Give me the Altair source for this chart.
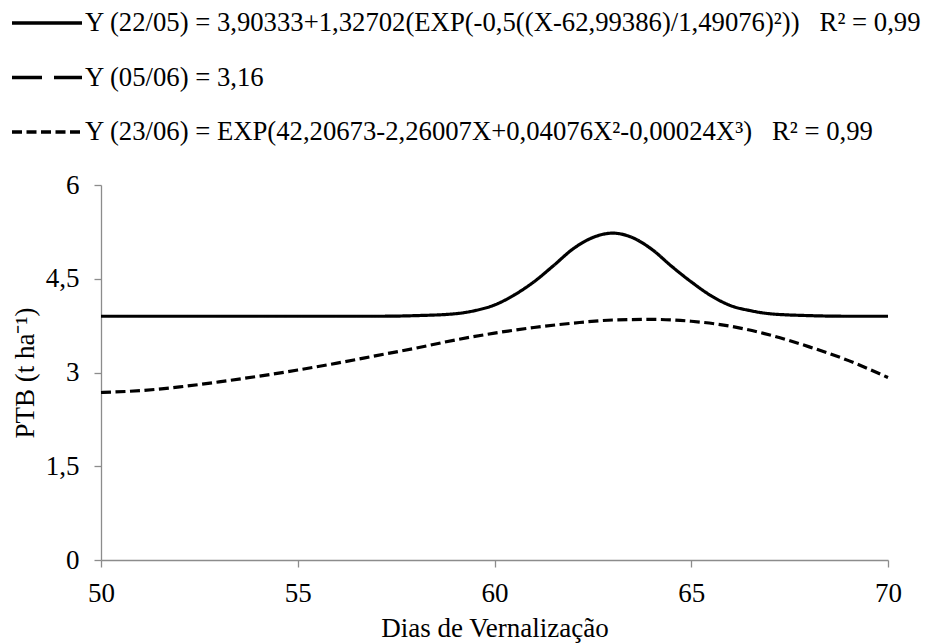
import altair as alt
import pandas as pd

# Series labels (legend text)
lab_a = "Y (22/05) = 3,90333+1,32702(EXP(-0,5((X-62,99386)/1,49076)²))\u00a0\u00a0\u00a0R² = 0,99"
lab_b = "Y (05/06) = 3,16"
lab_c = "Y (23/06) = EXP(42,20673-2,26007X+0,04076X²-0,00024X³)\u00a0\u00a0\u00a0R² = 0,99"

# Solid curve (22/05)
x_a = [50, 52, 54, 56, 57, 58, 59, 59.5, 60, 60.5, 61, 61.5, 62, 62.5, 63, 63.5, 64, 64.5, 65, 65.5, 66, 66.5, 67, 68, 69, 70]
y_a = [3.90, 3.90, 3.90, 3.90, 3.90, 3.91, 3.94, 3.99, 4.08, 4.24, 4.45, 4.71, 4.98, 5.16, 5.23, 5.16, 4.97, 4.70, 4.45, 4.23, 4.07, 3.99, 3.94, 3.91, 3.90, 3.90]

# Short-dashed curve (23/06)
x_c = [50, 51, 52, 53, 54, 55, 56, 57, 58, 59, 60, 61, 62, 63, 64, 65, 66, 67, 68, 69, 70]
y_c = [2.68, 2.71, 2.77, 2.85, 2.94, 3.04, 3.15, 3.27, 3.39, 3.52, 3.63, 3.72, 3.79, 3.84, 3.85, 3.82, 3.74, 3.60, 3.41, 3.19, 2.92]

y_ticks = [0, 1.5, 3, 4.5, 6]
x_ticks = [50, 55, 60, 65, 70]

df = pd.concat([
    pd.DataFrame({"x": x_a, "y": y_a, "serie": lab_a}),
    pd.DataFrame({"x": x_c, "y": y_c, "serie": lab_c}),
])

FONT = "Liberation Serif"
GREY = "#8c8c8c"
FS = 27

chart = alt.Chart(df).mark_line(
    color="black", strokeWidth=3.2, interpolate="monotone"
).encode(
    x=alt.X("x:Q", scale=alt.Scale(domain=[50, 70], nice=False, zero=False),
            axis=alt.Axis(values=x_ticks, title="Dias de Vernalização", grid=False,
                          labelPadding=13, titlePadding=9, format="d",
                          labelFlush=False, labelFont=FONT, titleFont=FONT)),
    y=alt.Y("y:Q", scale=alt.Scale(domain=[0, 6], nice=False),
            axis=alt.Axis(values=y_ticks, title="PTB (t ha⁻¹)", grid=False,
                          labelExpr="replace(format(datum.value, '~g'), '.', ',')",
                          labelPadding=15, titlePadding=6, labelFlush=False,
                          labelFont=FONT, titleFont=FONT)),
    strokeDash=alt.StrokeDash(
        "serie:N",
        scale=alt.Scale(domain=[lab_a, lab_b, lab_c],
                        range=[[1, 0], [30, 12], [10, 4.5]]),
        legend=alt.Legend(
            title=None, orient="none", legendX=-91, legendY=-199,
            direction="vertical", symbolType="stroke", symbolSize=4900,
            symbolStrokeWidth=3.5, symbolStrokeColor="black", labelFont=FONT,
            labelFontSize=26.7, labelColor="black", labelLimit=0, labelOffset=1,
            rowPadding=3.5, padding=0, symbolOffset=0,
        ),
    ),
).properties(
    width=787, height=375,
    background="white",
    autosize=alt.AutoSizeParams(type="none"),
    padding={"left": 101, "top": 185, "right": 37, "bottom": 83},
).configure_view(stroke=None).configure_axis(
    labelFont=FONT, titleFont=FONT, labelFontSize=FS, titleFontSize=FS,
    labelColor="black", titleColor="black", titleFontWeight="normal",
    domainColor=GREY, tickColor=GREY, tickSize=7, domainWidth=1.3, tickWidth=1.3,
)

chart.save("out.html", embed_options={"renderer": "svg", "actions": False})
